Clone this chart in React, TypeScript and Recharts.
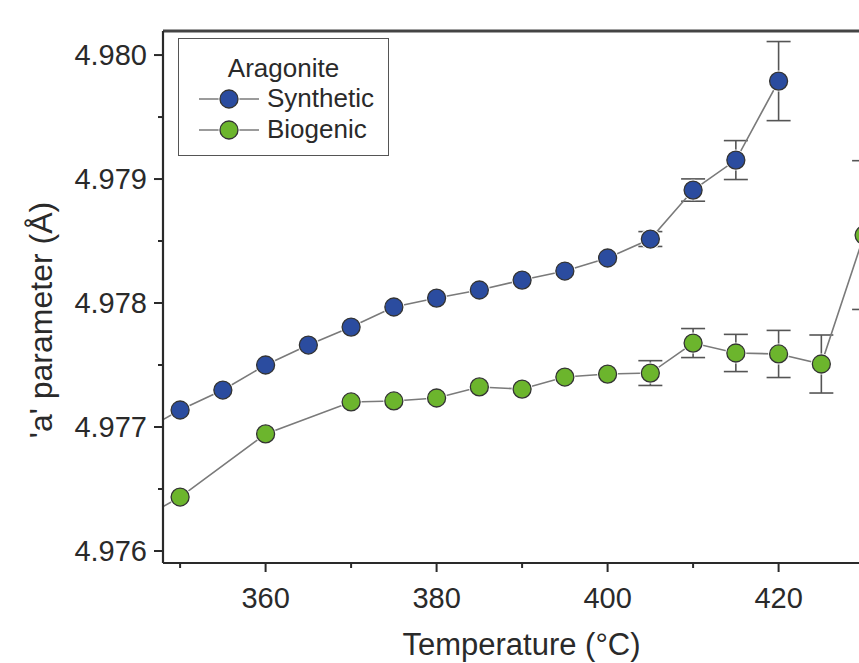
import React from "react";
import {
  LineChart,
  Line,
  XAxis,
  YAxis,
  ErrorBar,
  ReferenceLine,
} from "recharts";

// temperature (°C) and lattice 'a' values
const synTemps = [345, 350, 355, 360, 365, 370, 375, 380, 385, 390, 395, 400, 405, 410, 415, 420];
const synValues = [
  4.976944, 4.977137, 4.977298, 4.9775, 4.977661, 4.977806, 4.977968, 4.97804,
  4.978105, 4.978185, 4.978258, 4.978363, 4.978516, 4.978911, 4.979153, 4.97979,
];
// null = error bar hidden behind the marker
const synErrors = [
  null, null, null, null, null, null, null, null,
  null, null, null, null, 0.00006, 0.00009, 0.000157, 0.000319,
];

const bioTemps = [345, 350, 360, 370, 375, 380, 385, 390, 395, 400, 405, 410, 415, 420, 425, 430];
const bioValues = [
  4.976242, 4.976435, 4.976944, 4.977202, 4.97721, 4.977234, 4.977323, 4.977306,
  4.977403, 4.977427, 4.977435, 4.977677, 4.977597, 4.977589, 4.977508, 4.978548,
];
const bioErrors = [
  null, null, null, null, null, null, null, null,
  null, null, 0.0001, 0.000117, 0.00015, 0.00019, 0.000234, 0.0006,
];

const xTicks = [350, 360, 370, 380, 390, 400, 410, 420, 430];
const xLabels = [360, 380, 400, 420];
const yTicks = [4.976, 4.9765, 4.977, 4.9775, 4.978, 4.9785, 4.979, 4.9795, 4.98];
const yLabels = ["4.976", "4.977", "4.978", "4.979", "4.980"];

const synthetic = synTemps.map((t, i) => ({ t, v: synValues[i], e: synErrors[i] }));
const biogenic = bioTemps.map((t, i) => ({ t, v: bioValues[i], e: bioErrors[i] }));

const X_DOMAIN: [number, number] = [348.0, 431.86];
const Y_DOMAIN: [number, number] = [4.975903, 4.980194];

const BLUE = "#2b4c9f";
const GREEN = "#6cb52d";
const INK = "#2a2a2a";
const FONT = "'Liberation Sans', Arial, sans-serif";

const makeDot = (fill: string) => (props: any) => {
  const { cx, cy, key } = props;
  if (cx == null || cy == null) return <g key={key} />;
  return (
    <g key={key}>
      <circle cx={cx} cy={cy} r={10.5} fill="#fff" />
      <circle cx={cx} cy={cy} r={9} fill={fill} stroke="#333" strokeWidth={1.3} />
    </g>
  );
};

const XTick = (props: any) => {
  const { x, y, payload } = props;
  const major = xLabels.includes(payload.value);
  return (
    <g>
      <line x1={x} x2={x} y1={y} y2={y + (major ? 9 : 5)} stroke={INK} strokeWidth={2} />
      {major && (
        <text x={x} y={y + 45} textAnchor="middle" fontSize={29} fill={INK} fontFamily={FONT}>
          {payload.value}
        </text>
      )}
    </g>
  );
};

const YTick = (props: any) => {
  const { x, y, payload } = props;
  const label = payload.value.toFixed(3);
  const major = yLabels.includes(label) && Math.abs(payload.value * 1000 - Math.round(payload.value * 1000)) < 1e-6;
  return (
    <g>
      <line x1={x} x2={x - (major ? 9 : 5)} y1={y} y2={y} stroke={INK} strokeWidth={2} />
      {major && (
        <text x={x - 16} y={y + 10} textAnchor="end" fontSize={29} fill={INK} fontFamily={FONT}>
          {label}
        </text>
      )}
    </g>
  );
};

const YTitle = () => (
  <text
    x={52}
    y={320}
    transform="rotate(-90 52 320)"
    textAnchor="middle"
    fontSize={32}
    fill={INK}
    fontFamily={FONT}
  >
    'a' parameter (Å)
  </text>
);

const LegendRow = ({ color, label }: { color: string; label: string }) => (
  <div style={{ display: "flex", alignItems: "center", height: 31 }}>
    <svg width={64} height={24} style={{ marginLeft: 18 }}>
      <line x1={2} x2={62} y1={12} y2={12} stroke="#7a7a7a" strokeWidth={1.6} />
      <circle cx={32} cy={12} r={10.5} fill="#fff" />
      <circle cx={32} cy={12} r={9} fill={color} stroke="#333" strokeWidth={1.3} />
    </svg>
    <span style={{ marginLeft: 6, fontSize: 26, color: INK }}>{label}</span>
  </div>
);

export default function App() {
  return (
    <div
      style={{
        position: "absolute",
        left: 0,
        top: 0,
        width: 859,
        height: 663,
        overflow: "hidden",
        background: "#fff",
        fontFamily: FONT,
      }}
    >
      <LineChart width={900} height={663} margin={{ top: 31, right: 20, bottom: 0, left: 0 }}>
        <XAxis
          type="number"
          dataKey="t"
          domain={X_DOMAIN}
          allowDataOverflow
          ticks={xTicks}
          interval={0}
          tick={<XTick />}
          tickLine={false}
          tickSize={0}
          tickMargin={0}
          height={100}
          axisLine={{ stroke: INK, strokeWidth: 2.2 }}
          label={{
            value: "Temperature (°C)",
            position: "insideBottom",
            offset: 8,
            fontSize: 31,
            fill: INK,
            fontFamily: FONT,
          }}
        />
        <YAxis
          type="number"
          domain={Y_DOMAIN}
          allowDataOverflow
          ticks={yTicks}
          interval={0}
          tick={<YTick />}
          tickLine={false}
          tickSize={0}
          tickMargin={0}
          width={163}
          axisLine={{ stroke: INK, strokeWidth: 2.2 }}
          label={{ content: () => <YTitle /> }}
        />
        <ReferenceLine y={Y_DOMAIN[1]} stroke="#444" strokeWidth={3} ifOverflow="visible" />
        <ReferenceLine x={X_DOMAIN[1]} stroke="#444" strokeWidth={2} ifOverflow="visible" />
        <Line
          data={synthetic}
          dataKey="v"
          type="linear"
          stroke="#7a7a7a"
          strokeWidth={1.6}
          dot={makeDot(BLUE)}
          activeDot={false}
          isAnimationActive={false}
        >
          <ErrorBar dataKey="e" width={12} stroke="#555" strokeWidth={1.6} direction="y" />
        </Line>
        <Line
          data={biogenic}
          dataKey="v"
          type="linear"
          stroke="#7a7a7a"
          strokeWidth={1.6}
          dot={makeDot(GREEN)}
          activeDot={false}
          isAnimationActive={false}
        >
          <ErrorBar dataKey="e" width={12} stroke="#555" strokeWidth={1.6} direction="y" />
        </Line>
      </LineChart>
      <div
        style={{
          position: "absolute",
          left: 178,
          top: 38,
          width: 209,
          height: 116,
          border: "1.5px solid #555",
          background: "#fff",
          boxSizing: "content-box",
        }}
      >
        <div style={{ textAlign: "center", fontSize: 26, color: INK, marginTop: 14, height: 30, lineHeight: "30px" }}>
          Aragonite
        </div>
        <LegendRow color={BLUE} label="Synthetic" />
        <LegendRow color={GREEN} label="Biogenic" />
      </div>
    </div>
  );
}
